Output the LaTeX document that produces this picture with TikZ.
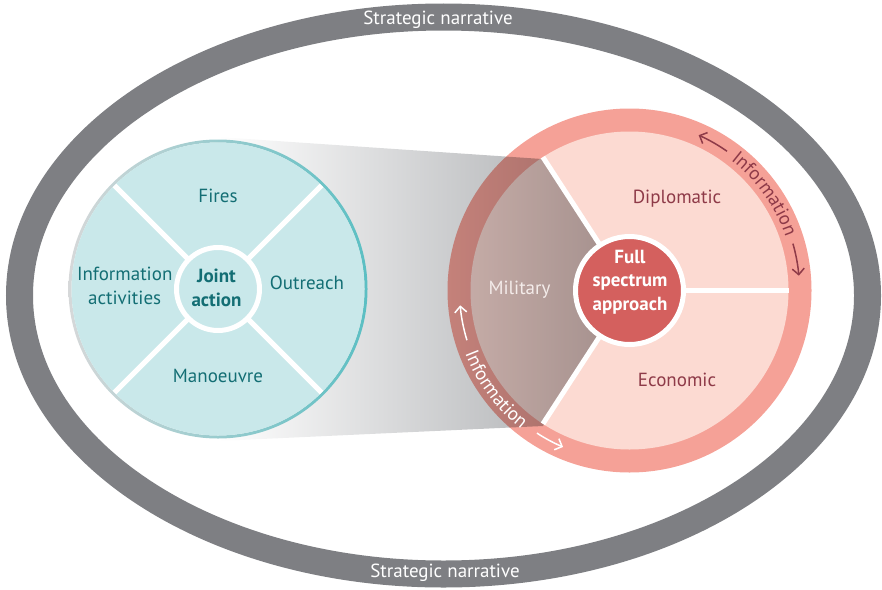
\documentclass[tikz,border=0pt]{standalone}
\usepackage{fontspec}
\setmainfont{PT Sans}
\usetikzlibrary{arrows.meta,decorations.text}
\definecolor{ringgray}{HTML}{7E7F83}
\definecolor{tealfill}{HTML}{C9E8EA}
\definecolor{tealline}{HTML}{5BBFC3}
\definecolor{tealmid}{HTML}{86CCCF}
\definecolor{tealgray}{HTML}{D6D8D9}
\definecolor{tealtext}{HTML}{136E74}
\definecolor{pinkring}{HTML}{F5A197}
\definecolor{pinkfill}{HTML}{FCDAD2}
\definecolor{redfill}{HTML}{D4605E}
\definecolor{redtext}{HTML}{8E3A48}
\definecolor{shadegray}{HTML}{A4A6A9}
\definecolor{miltext}{HTML}{F4ECEA}
\begin{document}
\begin{tikzpicture}[x=1pt,y=1pt,
  font=\fontsize{19}{24}\selectfont,
  lbl/.style={text=tealtext, align=center},
  rlbl/.style={text=redtext, align=center},
  divider/.style={white, line width=5pt},
  infoarrow/.style={line width=1.5pt, -{Straight Barb[length=6pt,width=12pt]}}]
\useasboundingbox (0,0) rectangle (882,-589);
\coordinate (E) at (443.5,-295.5);
\coordinate (L) at (218,-289);
\coordinate (R) at (629.5,-290.5);
% outer ellipse
\draw[ringgray, line width=27pt] (E) ellipse [x radius=424pt, y radius=278.5pt];
\node[white] (sn1) at (438,-20) {Strategic narrative};
\node[white] (sn2) at (445,-573) {Strategic narrative};
% right circle
\fill[pinkring] (R) circle[radius=182pt];
\fill[pinkfill] (R) circle[radius=159pt];
% gray projection
\begin{scope}[blend mode=multiply]
\shade[left color=white, right color=shadegray] (218,-137) -- (542,-159) -- (R) -- (543,-426) -- (218,-441) -- cycle;
\end{scope}
% right dividers and centre
\foreach \a in {0,123,237} \draw[divider] (R) -- ++(\a:159pt);
\draw[white, line width=5pt, fill=redfill] (R) circle[radius=54pt];
\node[text=white, font=\fontsize{19}{23.5}\selectfont\bfseries, align=center] (fsa) at (630,-282) {Full\\spectrum\\approach};
\node[rlbl] (dip) at (677,-199) {Diplomatic};
\node[rlbl] (eco) at (677,-380) {Economic};
\node[text=miltext] (mil) at (519.5,-290) {Military};
% information labels on ring
\path[decorate, decoration={text along path, text align=center,
  text={|\fontsize{19}{19}\selectfont\color{redtext}|Information}}]
  (R) ++(52:165pt) arc[start angle=52, end angle=19, radius=165pt];
\draw[infoarrow, redtext] (R) ++(55:170pt) arc[start angle=55, end angle=66, radius=170pt];
\draw[infoarrow, redtext] (R) ++(16:170pt) arc[start angle=16, end angle=5, radius=170pt];
\path[decorate, decoration={text along path, text align=center,
  text={|\fontsize{19}{19}\selectfont\color{white}|Information}}]
  (R) ++(200:176pt) arc[start angle=200, end angle=233, radius=176pt];
\draw[infoarrow, white] (R) ++(197:170pt) arc[start angle=197, end angle=185, radius=170pt];
\draw[infoarrow, white] (R) ++(237:170pt) arc[start angle=237, end angle=247, radius=170pt];
% left circle
\shade[left color=tealgray, middle color=tealmid, right color=tealline, even odd rule]
  (L) circle[radius=149.5pt] (L) circle[radius=146.5pt];
\fill[tealfill] (L) circle[radius=146.5pt];
\foreach \a in {45,135,225,315} \draw[divider] (L) -- ++(\a:146.5pt);
\draw[white, line width=5pt, fill=tealfill] (L) circle[radius=41.5pt];
\node[lbl, font=\fontsize{19}{24}\selectfont\bfseries] (ja) at (216.5,-288) {Joint\\action};
\node[lbl] (fires) at (218,-195.5) {Fires};
\node[lbl] (info) at (124.7,-286) {Information\\activities};
\node[lbl] (out) at (307,-283) {Outreach};
\node[lbl] (man) at (218,-376) {Manoeuvre};
\end{tikzpicture}
\end{document}
